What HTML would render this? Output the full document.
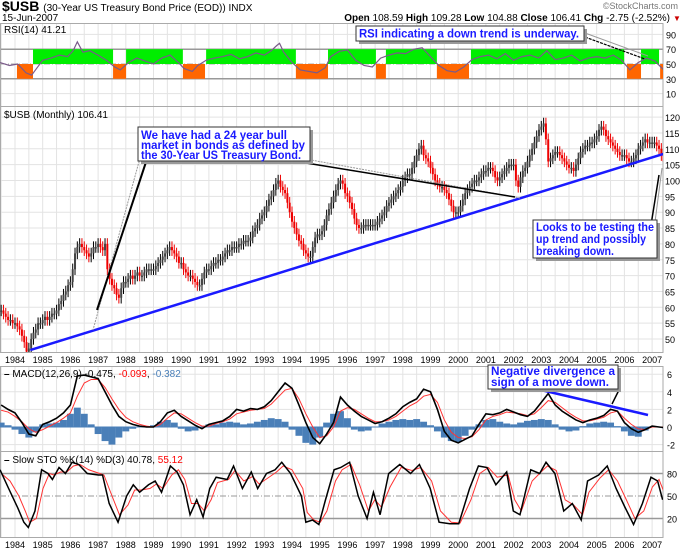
<!DOCTYPE html>
<html><head><meta charset="utf-8"><style>
html,body{margin:0;padding:0;background:#fff;}
svg{display:block;font-family:"Liberation Sans",sans-serif;}
</style></head><body>
<svg id="c" width="680" height="551" viewBox="0 0 680 551">
<defs>
<clipPath id="cr"><rect x="0" y="23" width="663" height="83"/></clipPath>
<clipPath id="cp"><rect x="0" y="106" width="663" height="246"/></clipPath>
<clipPath id="cm"><rect x="0" y="366" width="663" height="85"/></clipPath>
<clipPath id="cs"><rect x="0" y="451" width="663" height="86"/></clipPath>
</defs>
<text x="2" y="11" font-size="14" font-weight="bold">$USB <tspan font-size="10" font-weight="normal">(30-Year US Treasury Bond Price (EOD)) INDX</tspan></text>
<text x="2" y="21" font-size="10">15-Jun-2007</text>
<text x="678" y="9" font-size="9" fill="#777" text-anchor="end">©StockCharts.com</text>
<text x="670" y="21" font-size="10" text-anchor="end"><tspan font-weight="bold">Open</tspan> 108.59 <tspan font-weight="bold">High</tspan> 109.28 <tspan font-weight="bold">Low</tspan> 104.88 <tspan font-weight="bold">Close</tspan> 106.41 <tspan font-weight="bold">Chg</tspan> -2.75 (-2.52%)</text>
<text x="673" y="21" font-size="8" fill="#c00">▼</text>
<g id="grid"></g>
<g id="marks"></g>
<g id="ann"></g>
</svg>
<script>
const rsiTicks=[90,70,50,30,10];
const priceTicks=[120,115,110,105,100,95,90,85,80,75,70,65,60,55,50];
const macdTicks=[6,4,2,0,-2];
const stoTicks=[80,50,20];
const priceStart=1983.5;
const priceCloses=[59,58,57,56,56,55,
55,54,53,51,49,46,47,50,52,53,55,55,
56,57,56,57,58,58,59,61,62,64,65,67,
68,72,77,79,80,79,78,77,76,77,79,79,
80,79,78,80,72,69,67,66,64,63,66,68,
68,69,70,69,70,71,70,70,71,72,72,72,
72,73,74,75,76,77,78,79,78,77,76,74,
74,72,71,70,70,69,68,67,67,69,71,72,
72,73,74,74,75,75,76,77,78,78,79,79,
79,80,80,81,81,81,82,84,85,86,88,89,
90,92,94,95,97,99,100,98,97,96,93,90,
87,85,83,81,80,78,77,76,76,79,82,83,
83,84,86,89,91,93,95,97,99,100,99,96,
95,93,91,88,86,85,85,86,86,86,86,86,
86,87,88,89,90,92,93,94,95,96,97,98,
100,101,102,102,104,106,108,110,111,108,107,106,
104,102,100,99,98,98,97,96,94,92,90,90,
90,92,94,96,97,98,99,100,100,101,102,103,
103,104,104,103,101,100,101,102,103,104,105,105,
105,100,98,101,103,104,106,108,110,112,114,116,
117,118,113,106,107,108,109,109,108,107,106,105,
104,104,103,105,107,109,110,111,111,112,112,113,
114,116,117,116,114,113,112,111,110,109,108,108,
108,107,106,106,107,108,110,111,112,113,112,112,
112,112,111,110,108,106];
const trendYears=[1984.55,2007.45];
const trendPrices=[46.5,108.5];
const rsiYears=[1983.46,1983.8,1984.1,1984.4,1984.6,1984.8,1985.0,1985.3,1985.6,1985.9,1986.1,1986.25,1986.45,1986.7,1987.0,1987.3,1987.6,1987.8,1988.1,1988.4,1988.7,1989.0,1989.3,1989.6,1989.9,1990.1,1990.4,1990.6,1990.9,1991.2,1991.5,1991.8,1992.1,1992.4,1992.7,1993.0,1993.25,1993.45,1993.55,1993.7,1994.0,1994.3,1994.6,1994.9,1995.2,1995.4,1995.7,1996.0,1996.3,1996.6,1996.9,1997.2,1997.5,1997.8,1998.1,1998.4,1998.7,1999.0,1999.3,1999.6,1999.9,2000.2,2000.5,2000.8,2001.1,2001.4,2001.7,2002.0,2002.3,2002.6,2002.9,2003.2,2003.5,2003.8,2004.1,2004.4,2004.7,2005.0,2005.3,2005.6,2005.9,2006.2,2006.5,2006.8,2007.1,2007.45];
const rsiValues=[52,48,50,38,35,45,55,58,62,60,68,80,66,68,62,55,46,42,52,58,54,50,58,62,52,44,40,48,55,58,60,63,57,60,65,62,68,75,78,66,52,42,40,38,45,60,67,69,55,48,46,58,62,65,64,70,72,60,48,41,39,46,56,60,62,57,64,55,60,62,58,68,56,58,62,54,58,60,58,62,55,42,52,58,54,41];
const greenStart=[1984.65,1988.01,1990.90,1995.30,1997.39,2000.46,2006.60];
const greenEnd=[1987.54,1990.06,1994.14,1997.03,1999.23,2005.99,2007.25];
const orangeStart=[1984.07,1987.54,1990.06,1994.14,1997.03,1999.23,2006.09,2007.29];
const orangeEnd=[1984.65,1988.01,1990.86,1995.30,1997.39,2000.39,2006.60,2007.45];
const macdStart=1983.5;
const macdValues=[2.5,2.0,1.6,0.5,-0.8,-1.0,0.3,0.6,1.0,1.6,2.5,5.8,5.9,5.7,5.5,4.0,2.5,1.2,0.6,0.3,0.1,0.0,0.0,0.6,1.6,1.9,1.2,0.7,0.2,-0.2,0.3,0.5,0.7,1.2,2.0,1.8,2.1,2.0,2.3,3.0,4.0,5.0,4.4,2.5,0.5,-1.2,-1.9,-0.8,0.5,3.4,2.5,1.8,1.2,0.8,0.4,0.6,1.0,1.5,2.3,2.8,3.2,4.3,4.0,2.0,-0.5,-1.5,-1.8,-1.4,-1.0,0.3,1.5,1.4,1.6,2.0,1.7,1.4,1.2,1.8,2.8,3.8,2.5,1.8,1.3,0.8,0.5,0.8,1.0,1.3,2.0,1.8,0.5,-0.2,-0.6,-0.3,0.1,0.0,-0.1];
const signalValues=[1.9,1.7,1.2,0.6,-0.2,-0.6,-0.3,0.1,0.5,1.0,1.6,3.5,5.0,5.4,5.4,4.5,3.2,2.0,1.1,0.6,0.3,0.1,0.0,0.3,1.0,1.6,1.5,1.0,0.5,0.1,0.1,0.4,0.6,0.9,1.5,1.7,1.9,2.0,2.1,2.6,3.4,4.2,4.4,3.2,1.5,0.0,-1.2,-1.0,0.0,1.8,2.2,2.0,1.5,1.0,0.6,0.6,0.8,1.2,1.8,2.4,2.8,3.5,3.7,2.8,0.8,-0.6,-1.2,-1.3,-1.1,-0.3,0.8,1.2,1.4,1.7,1.6,1.5,1.3,1.5,2.2,3.0,2.8,2.2,1.6,1.1,0.7,0.7,0.9,1.1,1.6,1.8,1.0,0.3,-0.2,-0.3,0.0,0.0,0.0];
const histValues=[0.5,0.2,-0.3,-0.8,-1.2,-0.6,0.3,0.4,0.5,0.8,
1.5,2.2,1.5,0.3,-0.8,-1.6,-2.0,-1.2,-0.5,-0.2,
0,0,0.2,0.6,0.8,0.5,-0.2,-0.5,-0.4,0,
0.3,0.3,0.5,0.6,0.5,0.3,0.4,0.6,0.8,1.0,
0.9,0.6,-0.3,-1.0,-1.8,-2.0,-1.2,0.5,1.5,1.8,
1.0,-0.3,-0.5,-0.4,0,0.4,0.6,0.8,0.9,0.8,
0.9,0.6,0.2,-0.5,-1.2,-1.6,-1.7,-1.0,-0.3,0.3,
0.8,0.9,0.6,0.4,0.3,0.5,0.7,0.8,0.9,0.8,
0.3,-0.3,-0.5,-0.4,0.1,0.4,0.5,0.6,0.5,0.1,
-0.5,-1.0,-1.1,-0.4,0,0,-0.2];
const stoYears=[1983.46,1983.77,1984.09,1984.32,1984.48,1984.72,1984.96,1985.19,1985.35,1985.59,1985.82,1986.06,1986.30,1986.61,1987.01,1987.16,1987.40,1987.72,1988.03,1988.27,1988.50,1988.82,1989.06,1989.29,1989.61,1989.85,1990.08,1990.32,1990.56,1990.79,1991.03,1991.26,1991.66,1991.89,1992.21,1992.53,1992.76,1993.08,1993.39,1993.63,1993.95,1994.34,1994.50,1994.74,1994.97,1995.21,1995.52,1995.76,1996.08,1996.39,1996.71,1996.94,1997.18,1997.49,1997.89,1998.28,1998.60,1998.99,1999.31,1999.70,2000.02,2000.41,2000.73,2001.04,2001.36,2001.75,2001.99,2002.23,2002.62,2002.94,2003.17,2003.49,2003.81,2004.12,2004.44,2004.67,2005.07,2005.38,2005.70,2006.02,2006.33,2006.65,2006.96,2007.20,2007.38];
const stoK=[85,60,35,15,8,30,85,80,72,88,80,95,92,80,78,78,40,15,50,65,55,65,70,55,90,82,65,25,45,22,60,75,72,90,60,82,60,80,85,95,80,50,15,18,12,45,85,88,95,50,20,55,25,80,92,80,92,60,15,13,13,60,90,88,65,82,30,25,85,80,95,80,30,40,18,70,78,90,60,35,12,40,75,70,45];
const stoD=[80,70,50,30,15,20,60,80,78,82,82,90,92,85,80,78,55,25,38,58,58,60,66,60,78,85,72,40,40,30,45,68,72,84,70,76,66,74,82,90,85,60,28,18,15,30,70,85,92,65,30,45,35,62,88,84,88,70,30,15,14,45,80,88,75,78,45,30,70,82,90,84,45,38,25,55,74,85,70,45,20,30,62,72,55];
const dispYear=[1984,1985,1986,1987,1988,1989,1990,1991,1992,1993,1994,1995,1996,1997,1998,1999,2000,2001,2002,2003,2004,2005,2006,2007];

const NS='http://www.w3.org/2000/svg';
const X=t=>15+(t-1984)*27.7;
const yR=v=>64-(v-50)*0.74;
const yP=v=>339-(v-50)*3.17;
const yM=v=>427-v*8.8;
const yS=v=>496-(v-50)*0.75;
function mk(parent,tag,attrs){const e=document.createElementNS(NS,tag);for(const k in attrs)e.setAttribute(k,attrs[k]);parent.appendChild(e);return e;}
const grid=document.getElementById('grid'),marks=document.getElementById('marks'),ann=document.getElementById('ann');
const panels=[[23,106],[106,352],[366,451],[451,537]];
for(const [a,b] of panels){
  for(let y=1983.5;y<=2007.5;y+=0.5){const x=X(y);if(x<0||x>663)continue;
    const l=mk(grid,'line',{x1:x,x2:x,y1:a,y2:b,stroke:'#e3e3e3','stroke-width':1});
    
    }
}
rsiTicks.forEach(v=>{const y=yR(v);const strong=(v==30||v==70);
  const l=mk(grid,'line',{x1:0,x2:663,y1:y,y2:y,stroke:strong?'#999':(v==50?'#aaa':'#e3e3e3'),'stroke-width':strong?1.5:1,'stroke-dasharray':v==50?'6,2,1,2':'none'});
  
  
  const t=mk(grid,'text',{x:666,y:y+4,'font-size':9});t.textContent=v;
  
  });
priceTicks.forEach(v=>{const y=yP(v);
  const l=mk(grid,'line',{x1:0,x2:663,y1:y,y2:y,stroke:'#e3e3e3'});
  
  
  const t=mk(grid,'text',{x:665,y:y+4,'font-size':9});t.textContent=v;
  
  });
macdTicks.forEach(v=>{const y=yM(v);
  const l=mk(grid,'line',{x1:0,x2:663,y1:y,y2:y,stroke:'#e3e3e3'});
  
  
  const t=mk(grid,'text',{x:667,y:y+4,'font-size':9});t.textContent=v;
  
  });
stoTicks.forEach(v=>{const y=yS(v);
  const l=mk(grid,'line',{x1:0,x2:663,y1:y,y2:y,stroke:'#999','stroke-width':v==50?1:1.5,'stroke-dasharray':v==50?'6,2,1,2':'none'});
  
  
  const t=mk(grid,'text',{x:667,y:y+4,'font-size':9});t.textContent=v;
  
  });
[363,548].forEach(yy=>dispYear.forEach(yr=>{const t=mk(grid,'text',{x:X(yr),y:yy,'font-size':9,'text-anchor':'middle'});t.textContent=yr;
  
  }));
panels.forEach(([a,b])=>{const r=mk(grid,'rect',{x:0.5,y:a+0.5,width:662.5,height:b-a,fill:'none',stroke:'#aaa'});
  
  });

// RSI
const gR=mk(marks,'g',{'clip-path':'url(#cr)'});


greenStart.forEach((s,i)=>{const r=mk(gR,'rect',{x:X(s),y:yR(70),width:X(greenEnd[i])-X(s),height:yR(50)-yR(70),fill:'#00ee00'});
  
  });
orangeStart.forEach((s,i)=>{const r=mk(gR,'rect',{x:X(s),y:yR(50),width:X(orangeEnd[i])-X(s),height:yR(30)-yR(50),fill:'#ff6600'});
  
  });
const rl=mk(gR,'polyline',{points:rsiYears.map((t,i)=>X(t)+','+yR(rsiValues[i])).join(' '),fill:'none',stroke:'#7a5a8a','stroke-width':1.2});


const rt=mk(gR,'text',{x:4,y:33,'font-size':10});rt.textContent='RSI(14) 41.21';



// price candles
const gP=mk(marks,'g',{'clip-path':'url(#cp)'});


priceCloses.forEach((c,i)=>{const o=i?priceCloses[i-1]:c;const t=priceStart+i/12;const x=X(t);
  const col=c<o?'#e00':'#000';const hi=Math.max(o,c)+1.8,lo=Math.min(o,c)-1.8;
  const w=mk(gP,'line',{x1:x,x2:x,y1:yP(hi),y2:yP(lo),stroke:col,'stroke-width':1});
  
  
  const b=mk(gP,'rect',{x:x-1,y:yP(Math.max(o,c)),width:2,height:Math.max(1.5,Math.abs(yP(o)-yP(c))),fill:c<o?'#e00':'#444'});
  
  });
const tl=mk(gP,'line',{x1:X(trendYears[0]),y1:yP(trendPrices[0]),x2:X(trendYears[1]),y2:yP(trendPrices[1]),stroke:'#1a1aff','stroke-width':2.5});


const pt=mk(gP,'text',{x:4,y:118,'font-size':10});pt.textContent='$USB (Monthly) 106.41';



// MACD
const gM=mk(marks,'g',{'clip-path':'url(#cm)'});


histValues.forEach((h,i)=>{const x=X(macdStart+i*0.25);
  const r=mk(gM,'rect',{x:x-3.46,y:Math.min(yM(0),yM(h)),width:6.92,height:Math.abs(yM(h)-yM(0)),fill:'#4a7fb8'});
  
  });
const zl=mk(gM,'line',{x1:0,x2:663,y1:yM(0),y2:yM(0),stroke:'#4a7fb8','stroke-width':1});


const sl=mk(gM,'polyline',{points:signalValues.map((v,i)=>X(macdStart+i*0.25)+','+yM(v)).join(' '),fill:'none',stroke:'#ff3333','stroke-width':1});


const ml=mk(gM,'polyline',{points:macdValues.map((v,i)=>X(macdStart+i*0.25)+','+yM(v)).join(' '),fill:'none',stroke:'#000','stroke-width':1.6});


const mt=mk(gM,'text',{x:4,y:377,'font-size':10});
mt.innerHTML='<tspan font-weight="bold">–</tspan> MACD(12,26,9) -0.475, <tspan fill="#f00">-0.093</tspan>, <tspan fill="#4a7fb8">-0.382</tspan>';



// STO
const gS=mk(marks,'g',{'clip-path':'url(#cs)'});


const dl=mk(gS,'polyline',{points:stoD.map((v,i)=>X(stoYears[i]+0.05)+','+yS(v)).join(' '),fill:'none',stroke:'#ff3333','stroke-width':1});


const kl=mk(gS,'polyline',{points:stoK.map((v,i)=>X(stoYears[i])+','+yS(v)).join(' '),fill:'none',stroke:'#000','stroke-width':1.5});


const st=mk(gS,'text',{x:4,y:463,'font-size':10});
st.innerHTML='<tspan font-weight="bold">–</tspan> Slow STO %K(14) %D(3) 40.78, <tspan fill="#f00">55.12</tspan>';



ann.innerHTML=`
<g>
<line x1="140" y1="158" x2="93" y2="330" stroke="#999" stroke-width="1" stroke-dasharray="2,1"/>
<line x1="146" y1="162" x2="97" y2="310" stroke="#000" stroke-width="2"/>
<line x1="300" y1="158" x2="520" y2="198" stroke="#999" stroke-width="1" stroke-dasharray="2,1"/>
<line x1="300" y1="162" x2="515" y2="197" stroke="#000" stroke-width="1.5"/>
<rect x="141" y="130" width="172" height="34" fill="#999"/>
<rect x="138" y="127" width="172" height="34" fill="#fff" stroke="#333"/>
<text font-size="12" font-weight="bold" fill="#1a1aff"><tspan x="141" y="139" textLength="146" lengthAdjust="spacingAndGlyphs">We have had a 24 year bull</tspan><tspan x="141" y="149" textLength="164" lengthAdjust="spacingAndGlyphs">market in bonds as defined by</tspan><tspan x="141" y="159" textLength="160" lengthAdjust="spacingAndGlyphs">the 30-Year US Treasury Bond.</tspan></text>
</g>
<g>
<line x1="655" y1="222" x2="662" y2="168" stroke="#999" stroke-width="1"/>
<line x1="651" y1="225" x2="659" y2="175" stroke="#000" stroke-width="1.5"/>
<rect x="536" y="223" width="124" height="38" fill="#999"/>
<rect x="533" y="220" width="124" height="38" fill="#fff" stroke="#333"/>
<text font-size="12" font-weight="bold" fill="#1a1aff"><tspan x="536" y="231" textLength="118" lengthAdjust="spacingAndGlyphs">Looks to be testing the</tspan><tspan x="536" y="243" textLength="110" lengthAdjust="spacingAndGlyphs">up trend and possibly</tspan><tspan x="536" y="255" textLength="78" lengthAdjust="spacingAndGlyphs">breaking down.</tspan></text>
</g>
<g>
<line x1="585" y1="37" x2="645" y2="59" stroke="#000" stroke-width="1.2" stroke-dasharray="3,1"/>
<line x1="585" y1="33" x2="648" y2="56" stroke="#999" stroke-width="1"/>
<rect x="359" y="29" width="228" height="15" fill="#999"/>
<rect x="356" y="26" width="228" height="15" fill="#fff" stroke="#333"/>
<text x="359" y="37.5" font-size="12" font-weight="bold" fill="#1a1aff" textLength="220" lengthAdjust="spacingAndGlyphs">RSI indicating a down trend is underway.</text>
</g>
<g>
<line x1="541" y1="390" x2="648" y2="415" stroke="#1a1aff" stroke-width="2.5"/>
<line x1="620" y1="388" x2="612" y2="404" stroke="#000" stroke-width="1.5"/>
<rect x="491" y="368" width="130" height="24" fill="#999"/>
<rect x="488" y="365" width="130" height="24" fill="#fff" stroke="#333"/>
<text font-size="12" font-weight="bold" fill="#1a1aff"><tspan x="491" y="375" textLength="124" lengthAdjust="spacingAndGlyphs">Negative divergence a</tspan><tspan x="491" y="386" textLength="118" lengthAdjust="spacingAndGlyphs">sign of a move down.</tspan></text>
</g>`;
</script>
</body></html>
